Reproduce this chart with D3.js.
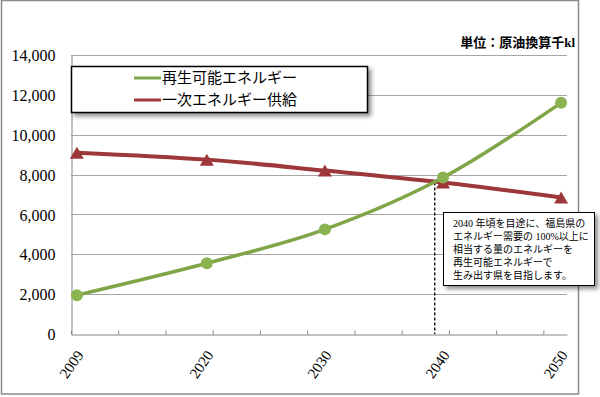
<!DOCTYPE html>
<html>
<head>
<meta charset="utf-8">
<script src="https://cdn.jsdelivr.net/npm/d3@7"></script>
<style>
  body { margin: 0; background: #fff; }
  text { font-family: "Liberation Serif", "Noto Sans CJK JP", serif; }
</style>
</head>
<body>
<div id="chart"></div>
<script>
// data
var years = [2009, 2020, 2030, 2040, 2050];
var renewable = [1950, 3550, 5250, 7850, 11600];   // 再生可能エネルギー
var primary = [9100, 8750, 8200, 7600, 6850];      // 一次エネルギー供給
var seriesNames = ["再生可能エネルギー", "一次エネルギー供給"];
var yTicks = [0, 2000, 4000, 6000, 8000, 10000, 12000, 14000];
var unitLabel = "単位：原油換算千kl";
var noteLines = [
  "2040 年頃を目途に、福島県の",
  "エネルギー需要の 100%以上に",
  "相当する量のエネルギーを",
  "再生可能エネルギーで",
  "生み出す県を目指します。"
];
var markYear = 2039.3, markValue = 7600;

var width = 600, height = 397;
var margin = {left: 71, right: 31, top: 55, bottom: 63};
var green = "#7fa547", red = "#9e373a";

var svg = d3.select("#chart").append("svg")
    .attr("width", width)
    .attr("height", height);

var defs = svg.append("defs");
var f = defs.append("filter").attr("id", "shadow")
    .attr("x", "-10%").attr("y", "-10%").attr("width", "130%").attr("height", "140%");
f.append("feDropShadow").attr("dx", 3).attr("dy", 3).attr("stdDeviation", 2)
    .attr("flood-color", "#000").attr("flood-opacity", 0.45);

// outer frame
svg.append("rect")
    .attr("x", 1.5).attr("y", 0.5)
    .attr("width", 577).attr("height", 393.5)
    .attr("fill", "#fff").attr("stroke", "#8a8a8a").attr("stroke-width", 1.5);

// categories 2009..2050, points in the middle of each slot
var x = d3.scaleLinear()
    .domain([2008.5, 2050.5])
    .range([margin.left, width - margin.right - 2]);
var y = d3.scaleLinear()
    .domain([0, 14000])
    .range([height - margin.bottom, margin.top]);

// gridlines
svg.append("g").selectAll("line.grid")
    .data(yTicks.filter(function(d) { return d > 0; }))
    .enter().append("line")
    .attr("class", "grid")
    .attr("x1", x.range()[0]).attr("x2", x.range()[1])
    .attr("y1", function(d) { return Math.round(y(d)) + 0.5; })
    .attr("y2", function(d) { return Math.round(y(d)) + 0.5; })
    .attr("stroke", "#a6a6a6").attr("stroke-width", 1);

// y axis
var yAxis = svg.append("g")
    .attr("transform", "translate(" + (margin.left + 0.5) + ",0.5)")
    .call(d3.axisLeft(y).tickValues(yTicks).tickSize(0).tickPadding(16)
      .tickFormat(d3.format(",")));
yAxis.attr("font-family", null);
yAxis.select(".domain").attr("stroke", "#868686");
yAxis.selectAll("text")
    .style("font-family", "'Liberation Serif'")
    .style("font-size", "16px")
    .attr("fill", "#000");

// x axis with inward ticks every 4 categories
var tickYears = d3.range(2008.5, 2050, 4);
var xAxis = svg.append("g")
    .attr("transform", "translate(0," + (Math.round(y(0)) + 0.5) + ")")
    .call(d3.axisBottom(x).tickValues(tickYears).tickSizeInner(-4).tickSizeOuter(0)
      .tickFormat(""));
xAxis.select(".domain").attr("stroke", "#868686");
xAxis.selectAll(".tick line").attr("stroke", "#868686");

svg.append("g").selectAll("text.xlab")
    .data(years)
    .enter().append("text")
    .attr("class", "xlab")
    .attr("transform", function(d) {
      return "translate(" + (x(d) + 3) + "," + (y(0) + 18) + ") rotate(-55)";
    })
    .attr("text-anchor", "end")
    .attr("dy", "0.35em")
    .style("font-size", "15px")
    .text(function(d) { return d; });

// dashed marker line
svg.append("line")
    .attr("x1", x(markYear)).attr("x2", x(markYear))
    .attr("y1", y(markValue)).attr("y2", y(0))
    .attr("stroke", "#000").attr("stroke-width", 1.3)
    .attr("stroke-dasharray", "3,2");

var line = d3.line()
    .x(function(d) { return x(d[0]); })
    .y(function(d) { return y(d[1]); })
    .curve(d3.curveCardinal.tension(0));

var primaryPts = years.map(function(d, i) { return [d, primary[i]]; });
var renewPts = years.map(function(d, i) { return [d, renewable[i]]; });

svg.append("path").datum(primaryPts)
    .attr("d", line).attr("fill", "none")
    .attr("stroke", red).attr("stroke-width", 4);
svg.selectAll("path.tri")
    .data(primaryPts)
    .enter().append("path")
    .attr("class", "tri")
    .attr("d", "M0,-6L7,6L-7,6Z")
    .attr("transform", function(d) { return "translate(" + x(d[0]) + "," + y(d[1]) + ")"; })
    .attr("fill", red);

svg.append("path").datum(renewPts)
    .attr("d", line).attr("fill", "none")
    .attr("stroke", green).attr("stroke-width", 3.5);
svg.selectAll("circle.dot")
    .data(renewPts)
    .enter().append("circle")
    .attr("class", "dot")
    .attr("cx", function(d) { return x(d[0]); })
    .attr("cy", function(d) { return y(d[1]); })
    .attr("r", 6)
    .attr("fill", "#8bb352");

// unit label
svg.append("text")
    .attr("x", 575).attr("y", 47)
    .attr("text-anchor", "end")
    .style("font-size", "13px")
    .style("font-weight", "bold")
    .text(unitLabel);

// legend
var legend = svg.append("g");
legend.append("rect")
    .attr("x", 71.5).attr("y", 66.5)
    .attr("width", 296).attr("height", 46)
    .attr("fill", "#fff").attr("stroke", "#000").attr("stroke-width", 1.5)
    .attr("filter", "url(#shadow)");
var items = legend.selectAll("g.item")
    .data(seriesNames)
    .enter().append("g")
    .attr("class", "item")
    .attr("transform", function(d, i) { return "translate(134," + (78 + i * 22) + ")"; });
items.append("line")
    .attr("x1", 0).attr("x2", 27)
    .attr("stroke", function(d, i) { return i === 0 ? green : red; })
    .attr("stroke-width", 3);
items.append("text")
    .attr("x", 28).attr("dy", "0.35em")
    .style("font-size", "15px")
    .text(function(d) { return d; });

// note box
var note = svg.append("g");
note.append("rect")
    .attr("x", 443.5).attr("y", 212.5)
    .attr("width", 151).attr("height", 73)
    .attr("fill", "#fff").attr("stroke", "#000").attr("stroke-width", 1)
    .attr("filter", "url(#shadow)");
note.selectAll("text")
    .data(noteLines)
    .enter().append("text")
    .attr("x", 453)
    .attr("y", function(d, i) { return 227 + i * 13; })
    .style("font-size", "10px")
    .text(function(d) { return d; });
</script>
</body>
</html>
